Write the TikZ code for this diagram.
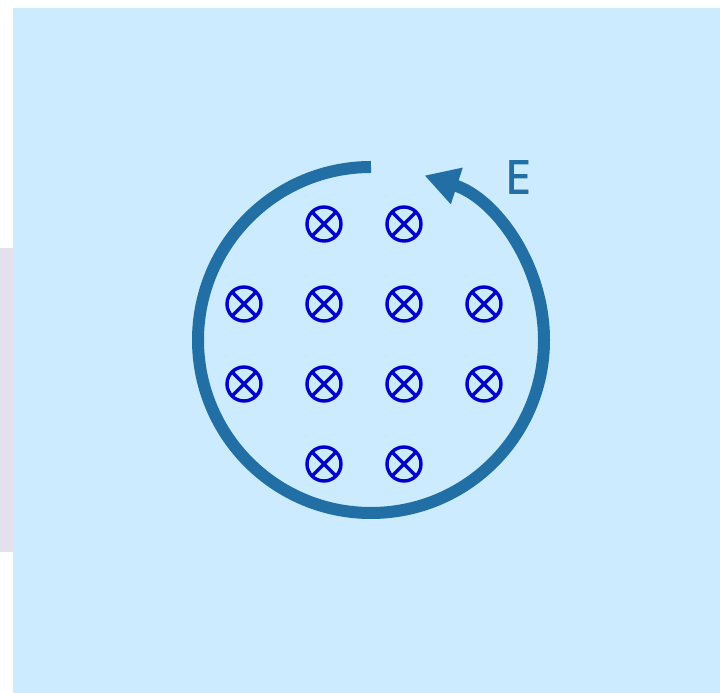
\documentclass[tikz,border=0pt]{standalone}
\usepackage{fontspec}
\newfontfamily\labelfont[FakeBold=1.5]{Open Sans}
\usetikzlibrary{arrows.meta}
\definecolor{bgblue}{RGB}{204,235,255}
\definecolor{lav}{RGB}{228,224,238}
\definecolor{arcblue}{RGB}{34,111,165}
\definecolor{fieldblue}{RGB}{0,0,204}
\tikzset{
  into/.style={circle,draw=fieldblue,line width=3.4pt,minimum size=34pt,inner sep=0pt,
    path picture={\draw[fieldblue,line width=3.4pt]
      ([shift={(-11pt,-11pt)}]path picture bounding box.center) -- ([shift={(11pt,11pt)}]path picture bounding box.center)
      ([shift={(-11pt,11pt)}]path picture bounding box.center) -- ([shift={(11pt,-11pt)}]path picture bounding box.center);}},
  loop/.style={draw=arcblue,line width=12pt,-{Triangle[length=34pt,width=36pt]}},
}
\begin{document}
\begin{tikzpicture}[x=1pt,y=1pt]
\useasboundingbox (0,0) rectangle (720,693);
\fill[white] (0,0) rectangle (720,693);
\fill[lav] (0,141) rectangle (13,445);
\fill[bgblue] (13,0) rectangle (720,685);
\coordinate (c) at (371,353);
\draw[loop] ([shift={(90:173)}]c) arc[start angle=90,end angle=432,radius=173];
\node[text=arcblue,font=\labelfont\fontsize{46}{46}\selectfont] (E) at (518,516) {E};
% field symbols
\node[into] (b12) at (324,469) {};
\node[into] (b13) at (404,469) {};
\node[into] (b21) at (244,389) {};
\node[into] (b22) at (324,389) {};
\node[into] (b23) at (404,389) {};
\node[into] (b24) at (484,389) {};
\node[into] (b31) at (244,309) {};
\node[into] (b32) at (324,309) {};
\node[into] (b33) at (404,309) {};
\node[into] (b34) at (484,309) {};
\node[into] (b42) at (324,229) {};
\node[into] (b43) at (404,229) {};
\end{tikzpicture}
\end{document}
